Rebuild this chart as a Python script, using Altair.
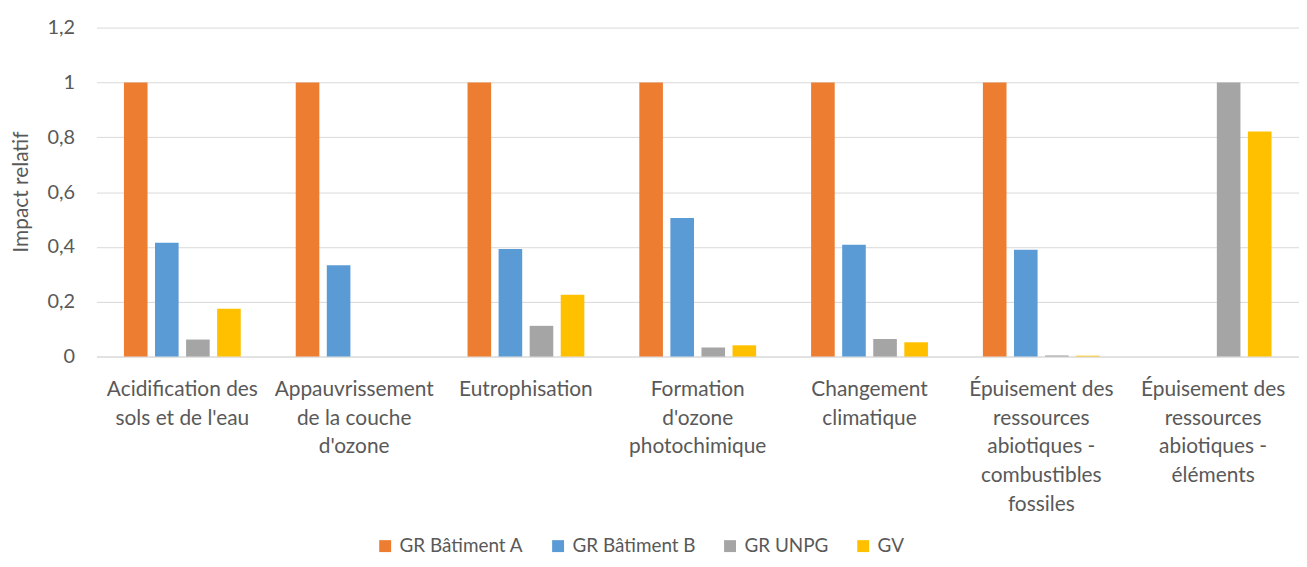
import altair as alt
import pandas as pd

categories = [
    "Acidification des sols et de l'eau",
    "Appauvrissement de la couche d'ozone",
    "Eutrophisation",
    "Formation d'ozone photochimique",
    "Changement climatique",
    "Épuisement des ressources abiotiques - combustibles fossiles",
    "Épuisement des ressources abiotiques - éléments",
]
label_lines = [
    ["Acidification des", "sols et de l'eau"],
    ["Appauvrissement", "de la couche", "d'ozone"],
    ["Eutrophisation"],
    ["Formation", "d'ozone", "photochimique"],
    ["Changement", "climatique"],
    ["Épuisement des", "ressources", "abiotiques -", "combustibles", "fossiles"],
    ["Épuisement des", "ressources", "abiotiques -", "éléments"],
]
series = ["GR Bâtiment A", "GR Bâtiment B", "GR UNPG", "GV"]
colors = ["#ED7D31", "#5B9BD5", "#A5A5A5", "#FFC000"]

gr_batiment_a = [1.0, 1.0, 1.0, 1.0, 1.0, 1.0, 0.0]
gr_batiment_b = [0.415, 0.333, 0.392, 0.505, 0.408, 0.39, 0.0]
gr_unpg = [0.062, 0.0, 0.112, 0.033, 0.064, 0.004, 1.0]
gv = [0.174, 0.0, 0.225, 0.041, 0.052, 0.003, 0.821]

values = [gr_batiment_a, gr_batiment_b, gr_unpg, gv]
rows = []
for s, vals in zip(series, values):
    for c, v in zip(categories, vals):
        rows.append({"cat": c, "serie": s, "val": v})
df = pd.DataFrame(rows)

# label expression mapping category to multi-line label
mapping = "{" + ", ".join(
    "'" + c.replace("'", "\\'") + "': [" + ", ".join("'" + l.replace("'", "\\'") + "'" for l in lines) + "]"
    for c, lines in zip(categories, label_lines)
) + "}"

FONT = "Lato"
TXT = "#595959"
GRID = "#D9D9D9"

chart = alt.Chart(df).mark_bar().encode(
    x=alt.X("cat:N", sort=categories, title=None,
            scale=alt.Scale(paddingInner=0.32, paddingOuter=0.16),
            axis=alt.Axis(labelAngle=0, labelExpr=mapping + "[datum.label]",
                          labelFont=FONT, labelFontSize=21, labelColor=TXT,
                          labelBaseline="top", labelPadding=22, labelLineHeight=29,
                          labelLimit=200, ticks=False, domainColor=GRID, domainWidth=1,
                          grid=False)),
    xOffset=alt.XOffset("serie:N", sort=series, scale=alt.Scale(paddingInner=0.24)),
    y=alt.Y("val:Q", scale=alt.Scale(domain=[0, 1.2]),
            axis=alt.Axis(values=[0, 0.2, 0.4, 0.6, 0.8, 1.0, 1.2],
                          labelExpr="replace(format(datum.value, '.1~f'), '.', ',')",
                          title="Impact relatif", titleFont=FONT, titleFontSize=21,
                          titleFontWeight="normal", titleColor=TXT,
                          titleX=-75, titleY=165, titleAngle=-90, titleAlign="center",
                          titleBaseline="middle",
                          labelFont=FONT, labelFontSize=20, labelColor=TXT,
                          labelPadding=22, ticks=False, domain=False,
                          gridColor=GRID, gridWidth=1)),
    color=alt.Color("serie:N", sort=series,
                    scale=alt.Scale(domain=series, range=colors),
                    legend=alt.Legend(title=None, orient="none", direction="horizontal",
                                      legendX=281, legendY=512,
                                      symbolType="square", symbolSize=144,
                                      symbolStrokeWidth=0, columnPadding=25,
                                      labelOffset=5, labelFont=FONT, labelFontSize=19,
                                      labelColor=TXT)),
).properties(
    width=1210, height=331,
    padding={"left": 89, "top": 18, "right": 0, "bottom": 201},
    autosize=alt.AutoSizeParams(type="none"),
).configure_view(stroke=None)

chart.save("out.html", embed_options={"renderer": "svg", "actions": False})
